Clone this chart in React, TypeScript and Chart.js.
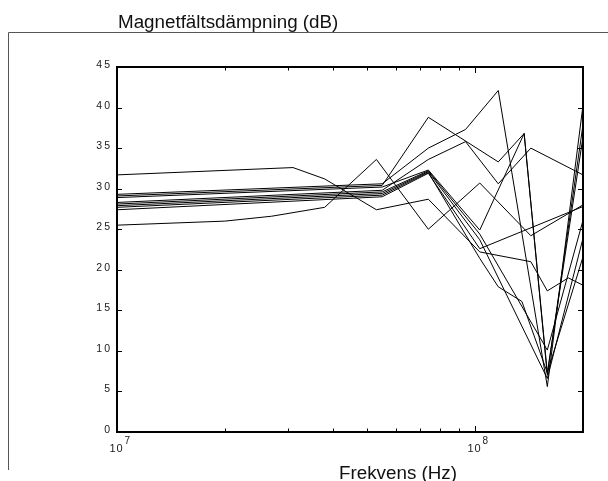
import React, { useEffect, useRef } from "react";
import { Chart, registerables } from "chart.js";

Chart.register(...registerables);

const TITLE = "Magnetfältsdämpning (dB)";
const X_LABEL = "Frekvens (Hz)";
const Y_TICKS = [0, 5, 10, 15, 20, 25, 30, 35, 40, 45];
const X_MAJOR = [1e7, 1e8];
const X_MAJOR_BASE = ["10", "10"];
const X_MAJOR_EXP = ["7", "8"];
const X_MINOR = [2e7, 3e7, 4e7, 5e7, 6e7, 7e7, 8e7, 9e7, 2e8];

// Series: frequency (Hz) and attenuation (dB)
const s1Freq = [1e7, 3.1e7, 3.8e7, 5.3e7, 7.4e7, 1.03e8, 1.43e8, 1.59e8, 1.82e8, 2e8];
const s1Db = [31.7, 32.6, 31.2, 27.4, 28.7, 22.2, 21.0, 17.4, 19.0, 18.1];

const s2Freq = [1e7, 2e7, 2.7e7, 3.8e7, 5.3e7, 7.4e7, 1.03e8, 1.43e8, 2e8];
const s2Db = [25.5, 26.0, 26.6, 27.7, 33.6, 25.0, 30.7, 24.2, 28.0];

const c1Freq = [1e7, 5.5e7, 7.4e7, 9.4e7, 1.16e8, 1.59e8, 2e8];
const c1Db = [29.3, 30.6, 35.0, 37.3, 42.1, 5.6, 40.3];

const c2Freq = [1e7, 5.5e7, 7.4e7, 1.16e8, 1.37e8, 1.59e8, 2e8];
const c2Db = [29.1, 30.4, 38.8, 33.3, 36.8, 7.0, 37.9];

const c3Freq = [1e7, 5.5e7, 7.4e7, 1.03e8, 1.37e8, 1.59e8, 2e8];
const c3Db = [28.9, 30.2, 32.3, 24.9, 36.8, 7.3, 36.4];

const c4Freq = [1e7, 5.5e7, 7.4e7, 9.4e7, 1.16e8, 1.43e8, 2e8];
const c4Db = [28.3, 29.8, 33.6, 35.8, 30.6, 35.0, 31.7];

const c5Freq = [1e7, 5.5e7, 7.4e7, 1.03e8, 1.59e8, 2e8];
const c5Db = [28.1, 29.6, 32.2, 24.4, 10.1, 26.1];

const c6Freq = [1e7, 5.5e7, 7.4e7, 1.03e8, 1.59e8, 2e8];
const c6Db = [27.9, 29.4, 32.1, 23.7, 6.6, 23.9];

const c7Freq = [1e7, 5.5e7, 7.4e7, 1.03e8, 1.16e8, 1.35e8, 1.59e8, 2e8];
const c7Db = [27.7, 29.2, 32.0, 21.4, 17.9, 16.1, 7.3, 21.6];

const c8Freq = [1e7, 5.5e7, 7.4e7, 1.03e8, 2e8];
const c8Db = [27.4, 29.0, 31.9, 22.6, 27.8];

const SERIES: [number[], number[]][] = [
  [s1Freq, s1Db],
  [s2Freq, s2Db],
  [c1Freq, c1Db],
  [c2Freq, c2Db],
  [c3Freq, c3Db],
  [c4Freq, c4Db],
  [c5Freq, c5Db],
  [c6Freq, c6Db],
  [c7Freq, c7Db],
  [c8Freq, c8Db],
];

const FONT = "'Liberation Sans', Arial, sans-serif";

const decorPlugin = {
  id: "decor",
  afterDatasetsDraw(chart: any) {
    const { ctx, chartArea: a, scales } = chart;
    const xs = scales.x;
    const ys = scales.y;
    ctx.save();

    // outer frame of the figure
    ctx.strokeStyle = "#555";
    ctx.lineWidth = 1;
    ctx.beginPath();
    ctx.moveTo(8.5, 470);
    ctx.lineTo(8.5, 32.5);
    ctx.lineTo(608, 32.5);
    ctx.stroke();

    // plot box
    ctx.strokeStyle = "#000";
    ctx.lineWidth = 2;
    ctx.strokeRect(a.left, a.top, a.right - a.left, a.bottom - a.top);

    // y ticks (inward, both sides) and labels
    ctx.lineWidth = 1;
    ctx.fillStyle = "#1a1a1a";
    ctx.font = `10.5px ${FONT}`;
    ctx.textAlign = "right";
    ctx.textBaseline = "middle";
    try { (ctx as any).letterSpacing = "2px"; } catch (e) {}
    Y_TICKS.forEach((v) => {
      const y = Math.round(ys.getPixelForValue(v)) + 0.5;
      ctx.beginPath();
      ctx.moveTo(a.left, y);
      ctx.lineTo(a.left + 5, y);
      ctx.moveTo(a.right - 5, y);
      ctx.lineTo(a.right, y);
      ctx.stroke();
      ctx.fillText(String(v), a.left - 5, y - 2);
    });
    try { (ctx as any).letterSpacing = "0px"; } catch (e) {}

    // x ticks (inward top and bottom)
    X_MINOR.forEach((f) => {
      const x = Math.round(xs.getPixelForValue(f)) + 0.5;
      ctx.beginPath();
      ctx.moveTo(x, a.bottom);
      ctx.lineTo(x, a.bottom - 3.5);
      ctx.moveTo(x, a.top);
      ctx.lineTo(x, a.top + 3.5);
      ctx.stroke();
    });
    X_MAJOR.forEach((f, i) => {
      const x = Math.round(xs.getPixelForValue(f)) + 0.5;
      ctx.beginPath();
      ctx.moveTo(x, a.bottom);
      ctx.lineTo(x, a.bottom - 6);
      ctx.moveTo(x, a.top);
      ctx.lineTo(x, a.top + 6);
      ctx.stroke();
      ctx.textAlign = "center";
      ctx.textBaseline = "alphabetic";
      ctx.font = `11px ${FONT}`;
      try { (ctx as any).letterSpacing = "1px"; } catch (e) {}
      const base = X_MAJOR_BASE[i];
      const w = ctx.measureText(base).width;
      ctx.fillText(base, x - 1, a.bottom + 20);
      ctx.textAlign = "left";
      ctx.font = `10px ${FONT}`;
      ctx.fillText(X_MAJOR_EXP[i], x - 1 + w / 2 + 1, a.bottom + 12);
      try { (ctx as any).letterSpacing = "0px"; } catch (e) {}
    });

    // title and axis label
    ctx.fillStyle = "#111";
    ctx.font = `18.8px ${FONT}`;
    ctx.textAlign = "left";
    ctx.textBaseline = "alphabetic";
    ctx.fillText(TITLE, 118, 28);
    ctx.textAlign = "center";
    ctx.fillText(X_LABEL, 398, 479);

    ctx.restore();
  },
};

export default function App() {
  const canvasRef = useRef<HTMLCanvasElement | null>(null);

  useEffect(() => {
    const canvas = canvasRef.current;
    if (!canvas) return;
    const datasets = SERIES.map(([freqs, vals], i) => ({
      label: `Serie ${i + 1}`,
      data: freqs.map((f, j) => ({ x: f, y: vals[j] })),
      showLine: true,
      borderColor: "#000",
      backgroundColor: "#000",
      borderWidth: 1,
      pointRadius: 0,
      tension: 0,
      fill: false,
    }));
    const chart = new Chart(canvas, {
      type: "scatter",
      data: { datasets },
      options: {
        animation: false,
        responsive: true,
        maintainAspectRatio: false,
        layout: { padding: { left: 117, right: 25, top: 67, bottom: 49 } },
        plugins: {
          legend: { display: false },
          tooltip: { enabled: false },
          title: { display: false },
        },
        scales: {
          x: { type: "logarithmic", min: 1e7, max: 2e8, display: false },
          y: { type: "linear", min: 0, max: 45, display: false },
        },
      },
      plugins: [decorPlugin],
    });
    return () => chart.destroy();
  }, []);

  return (
    <div
      style={{
        position: "fixed",
        left: 0,
        top: 0,
        width: 608,
        height: 481,
        background: "#fff",
      }}
    >
      <canvas ref={canvasRef} />
    </div>
  );
}
